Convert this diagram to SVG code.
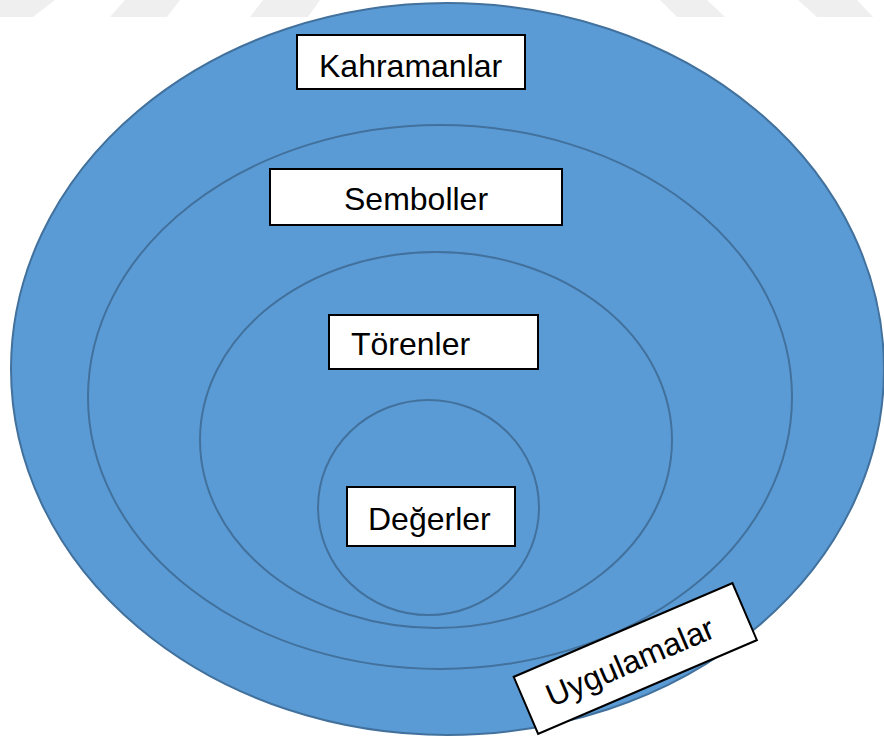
<svg xmlns="http://www.w3.org/2000/svg" width="884" height="740" viewBox="0 0 884 740">
<style>
.ring{fill:#5b9bd5;stroke:#41719c;stroke-width:2}
.inner{fill:none;stroke:#41719c;stroke-width:2}
.box{fill:#ffffff;stroke:#000000;stroke-width:2}
.lbl{font-family:"Liberation Sans",Arial,sans-serif;font-size:32px;fill:#000000}
.wm{fill:#efefef}
</style>
<rect width="884" height="740" fill="#ffffff"/>
<g id="watermark">
<polygon class="wm" points="0,0 55,0 33,17 0,17"/>
<polygon class="wm" points="125,0 180,0 167,17 110,17"/>
<polygon class="wm" points="263,0 320,0 308,17 250,17"/>
<polygon class="wm" points="660,0 707,0 725,17 677,17"/>
<polygon class="wm" points="798,0 857,0 873,17 817,17"/>
</g>
<g id="uygulamalar-ring"><ellipse class="ring" cx="447.5" cy="369" rx="436.5" ry="366"/></g>
<g id="semboller-ring"><ellipse class="inner" cx="440" cy="397" rx="352" ry="272"/></g>
<g id="torenler-ring"><ellipse class="inner" cx="436" cy="440" rx="236" ry="188"/></g>
<g id="degerler-ring"><ellipse class="inner" cx="428.5" cy="507.5" rx="110.5" ry="107.5"/></g>
<g id="kahramanlar">
<rect class="box" x="297" y="35" width="228" height="54"/>
<text class="lbl" x="319" y="77">Kahramanlar</text>
</g>
<g id="semboller">
<rect class="box" x="270" y="169" width="292" height="56"/>
<text class="lbl" x="344" y="210">Semboller</text>
</g>
<g id="torenler">
<rect class="box" x="329" y="315" width="209" height="54"/>
<text class="lbl" x="351" y="355">Törenler</text>
</g>
<g id="degerler">
<rect class="box" x="347" y="487" width="168" height="59"/>
<text class="lbl" x="368" y="530">Değerler</text>
</g>
<g id="uygulamalar" transform="translate(635.3 658.5) rotate(-23.2)">
<rect class="box" x="-119" y="-31" width="238" height="62"/>
<text class="lbl" x="-96" y="12">Uygulamalar</text>
</g>
<g id="connectors"/>
</svg>
